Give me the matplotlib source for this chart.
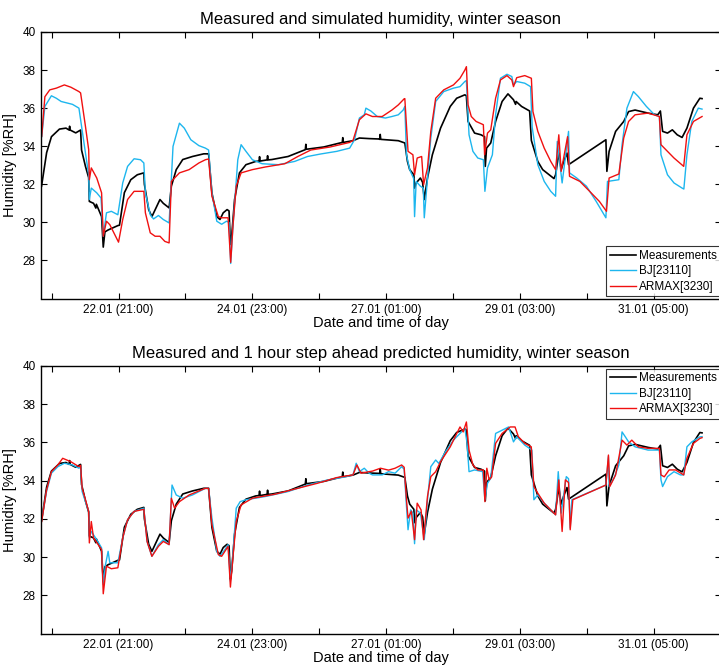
import matplotlib
matplotlib.use("Agg")
import matplotlib.pyplot as plt

plt.rcParams['font.family'] = ['Liberation Sans', 'DejaVu Sans']

# x values: hours since 21.01 00:00
tick_hours = [20, 45, 70, 95, 120, 145, 170, 195, 220, 245, 270]
tick_labels = ['', '22.01 (21:00)', '', '24.01 (23:00)', '', '27.01 (01:00)', '',
               '29.01 (03:00)', '', '31.01 (05:00)', '']
y_ticks = [28, 30, 32, 34, 36, 38, 40]

meas_t = [16.2, 18.1, 19.9, 22.9, 25.35, 26.5, 26.7, 26.9, 28.98, 30.18, 30.8, 31.16, 32.62, 33.82,
          34.07, 35.64, 36.5, 36.7, 38.07, 38.65, 39.27, 39.89, 41.09, 44.73, 45.34, 47.16,
          49.56, 52.0, 54.44, 54.65, 56.25, 57.45, 59.27, 60.47, 61.71, 63.89, 64.73, 66.55,
          68.98, 72.62, 76.84, 78.65, 79.89, 81.71, 82.9, 84.11, 85.56, 86.29, 86.8, 87.27,
          88.36, 90.18, 92.62, 96.25, 97.5, 97.7, 97.9, 100.5, 100.7, 100.9, 102.29, 108.36,
          114.44, 114.8, 115.0, 115.2, 121.71, 127.75, 128.6, 128.8, 129.0, 132.62, 135.02,
          138.65, 142.29, 142.6, 142.8, 143.0, 149.56, 152.0, 152.98, 153.82, 155.38, 155.64,
          156.25, 157.82, 158.65, 159.27, 160.47, 162.29, 165.35, 168.98, 171.38, 174.44,
          175.0, 175.64, 178.07, 180.47, 181.8, 182.07, 182.55, 184.11, 185.93, 188.36,
          190.55, 192.62, 193.4, 193.6, 195.64, 198.65, 199.3, 201.71, 203.53, 205.93, 207.75, 208.36,
          209.56, 210.44, 211.38, 212.62, 213.2, 227.16, 227.53, 228.36, 230.8, 233.82,
          235.64, 238.07, 242.91, 246.55, 247.53, 248.36, 250.18, 252.0, 253.82, 255.64,
          257.45, 259.89, 262.29, 263.1]
meas_v = [31.9, 33.66, 34.5, 34.9, 34.95, 34.85, 35.05, 34.85, 34.7, 34.8, 34.85, 33.8, 32.94, 32.35,
          31.1, 31.0, 30.75, 30.95, 30.5, 30.3, 28.7, 29.5, 29.6, 29.83, 29.85, 31.56,
          32.24, 32.5, 32.6, 32.0, 30.67, 30.3, 30.84, 31.2, 31.0, 30.76, 31.9, 32.77,
          33.3, 33.46, 33.6, 33.6, 31.55, 30.3, 30.15, 30.5, 30.67, 30.6, 28.84, 29.27,
          31.2, 32.6, 33.03, 33.2, 33.22, 33.45, 33.22, 33.28, 33.5, 33.28, 33.3, 33.46,
          33.8, 33.82, 34.1, 33.84, 33.96, 34.17, 34.19, 34.45, 34.2, 34.29, 34.43,
          34.4, 34.38, 34.36, 34.62, 34.36, 34.29, 34.17, 33.2, 32.77, 32.5, 31.8,
          32.07, 32.33, 32.1, 31.2, 32.33, 33.55, 34.95, 36.09, 36.52, 36.7,
          36.65, 35.3, 34.69, 34.6, 34.5, 32.94, 33.9, 34.17, 35.3, 36.35,
          36.75, 36.44, 36.2, 36.35, 36.09, 35.85, 34.3, 33.2, 32.77, 32.5, 32.3, 32.5,
          33.64, 32.77, 33.2, 33.64, 33.03, 34.34, 32.68, 33.73, 34.78, 35.3,
          35.82, 35.9, 35.74, 35.65, 35.85, 34.78, 34.69, 34.86, 34.6, 34.46,
          34.95, 36.0, 36.52, 36.5]

# Simulated (top panel)
sim_bj_t = [16.25, 17.45, 19.89, 21.71, 23.53, 27.75, 30.18, 31.16, 32.62, 33.82, 34.07, 34.8,
            36.84, 38.44, 39.27, 40.47, 42.29, 44.73, 46.55, 48.36, 50.8, 53.2, 54.44, 55.02,
            56.84, 58.07, 59.89, 61.71, 63.89, 65.35, 67.75, 69.56, 72.0, 75.02, 77.45, 78.65,
            79.89, 81.71, 83.53, 85.35, 86.29, 86.91, 87.75, 89.56, 90.8, 92.62, 95.02, 98.65,
            104.73, 110.8, 115.64, 120.47, 126.55, 131.38, 133.2, 135.02, 136.84, 137.45, 139.3,
            141.71, 144.73, 147.16, 149.56, 151.38, 152.0, 152.62, 153.82, 155.3, 155.64,
            156.25, 157.82, 158.9, 159.27, 160.47, 161.71, 163.53, 166.55, 170.18, 172.62,
            174.44, 175.0, 176.0, 177.45, 179.27, 181.35, 181.93, 182.9, 184.73, 185.93,
            187.75, 190.18, 192.0, 192.62, 193.82, 196.84, 199.0, 199.6, 201.71, 204.11,
            206.55, 208.36, 208.98, 210.8, 212.0, 213.2, 213.56, 216.25, 219.89, 223.53,
            227.16, 227.75, 232.0, 233.2, 235.02, 237.45, 239.27, 242.29, 245.35, 247.16,
            247.75, 250.18, 252.62, 255.64, 256.3, 257.45, 259.27, 261.71, 263.1]
sim_bj_v = [34.5, 36.09, 36.65, 36.52, 36.35, 36.2, 36.0, 35.04, 33.64, 32.5, 31.2, 31.8,
            31.55, 31.28, 29.27, 30.5, 30.58, 30.4, 32.07, 32.94, 33.34, 33.29, 33.12, 31.55,
            30.4, 30.18, 30.36, 30.15, 29.97, 33.99, 35.21, 34.95, 34.34, 34.03, 33.9, 33.8,
            31.55, 30.06, 29.9, 30.06, 30.0, 27.84, 29.8, 33.29, 34.08, 33.73, 33.29, 33.08,
            33.03, 33.2, 33.46, 33.59, 33.73, 33.9, 34.34, 35.48, 35.65, 36.0, 35.85,
            35.56, 35.48, 35.56, 35.65, 35.9, 36.09, 33.55, 32.77, 32.3, 30.3,
            32.15, 31.9, 31.8, 30.24, 32.33, 34.43, 36.35, 36.87, 37.05, 37.13,
            37.4, 37.45, 34.6, 33.73, 33.38, 33.29, 31.63, 32.86, 33.55, 35.65,
            37.57, 37.78, 37.66, 37.22, 37.4, 37.31, 37.13, 35.0, 33.03, 32.15,
            31.63, 31.37, 34.25, 32.07, 33.4, 34.78, 32.6, 32.33, 31.9, 31.1,
            30.24, 32.15, 32.24, 34.08, 36.0, 36.87, 36.61, 36.09, 35.65, 35.56,
            33.55, 32.5, 32.07, 31.8, 31.75, 33.55, 35.3, 36.0, 35.95]

sim_ax_t = [16.0, 16.25, 17.45, 19.27, 21.71, 24.73, 27.16, 30.18, 30.8, 32.62, 33.82, 34.07,
            34.8, 36.84, 38.65, 39.27, 40.47, 41.71, 44.98, 46.55, 48.36, 50.8, 54.44, 55.02,
            56.84, 58.65, 60.47, 62.29, 63.89, 64.73, 67.75, 71.38, 75.02, 77.45, 78.65, 79.89,
            82.29, 83.53, 85.93, 86.91, 87.75, 88.98, 90.8, 95.02, 99.89, 107.16, 112.0, 116.84,
            124.11, 131.38, 132.62, 135.02, 137.45, 139.89, 143.53, 147.16, 149.56, 151.75,
            152.0, 153.2, 155.02, 155.64, 156.62, 158.29, 159.02, 160.47, 161.71, 163.53,
            166.55, 170.18, 172.62, 174.44, 175.02, 175.64, 176.84, 178.65, 181.35, 181.82,
            182.9, 184.11, 185.93, 187.75, 190.18, 192.0, 192.62, 193.82, 196.84, 199.3,
            199.89, 201.71, 204.11, 206.55, 208.36, 209.56, 210.44, 212.84, 213.56, 217.45,
            221.09, 224.73, 227.38, 228.36, 232.0, 233.82, 235.64, 238.07, 242.91, 247.16,
            247.75, 250.18, 252.62, 256.25, 257.45, 259.89, 263.1]
sim_ax_v = [35.8, 34.5, 36.6, 36.96, 37.05, 37.22, 37.1, 36.87, 36.8, 35.04, 33.82, 32.24,
            32.86, 32.33, 31.55, 29.27, 30.06, 29.88, 28.96, 30.15, 31.2, 31.63, 31.63, 30.5,
            29.45, 29.27, 29.27, 29.0, 28.92, 32.15, 32.6, 32.77, 33.12, 33.29, 33.33, 31.37,
            30.3, 30.24, 30.24, 27.9, 29.8, 31.9, 32.6, 32.77, 32.91, 33.08, 33.46, 33.8,
            33.96, 34.2, 34.3, 35.39, 35.7, 35.56, 35.56, 35.9, 36.17, 36.49,
            36.5, 33.73, 33.55, 32.5, 33.38, 33.46, 31.98, 32.86, 34.78, 36.52,
            36.96, 37.22, 37.57, 38.0, 38.18, 36.17, 35.56, 35.3, 35.13, 33.55,
            34.69, 34.86, 36.52, 37.48, 37.71, 37.48, 37.13, 37.6, 37.71, 37.57,
            35.82, 34.78, 33.9, 33.2, 32.77, 34.6, 32.68, 34.5, 32.42, 32.15,
            31.63, 31.1, 30.58, 32.33, 32.54, 34.43, 35.3, 35.65, 35.74, 35.56,
            34.08, 33.73, 33.38, 32.94, 34.6, 35.3, 35.56]

# 1 hour step ahead predicted (bottom panel)
pred_bj_t = [16.25, 18.07, 19.89, 22.29, 24.73, 27.75, 30.18, 30.8, 31.38, 32.62, 33.82, 34.07,
             34.8, 36.84, 38.65, 39.27, 40.11, 41.09, 41.71, 44.73, 46.55, 48.36, 50.8, 54.44,
             55.64, 57.45, 59.89, 61.71, 63.89, 64.98, 66.55, 68.98, 72.62, 77.45, 78.65, 79.89,
             81.71, 82.9, 84.73, 85.93, 86.8, 87.75, 88.98, 90.44, 92.62, 99.89, 108.36, 115.64,
             122.91, 130.18, 132.62, 133.82, 135.02, 136.84, 138.65, 139.89, 143.53, 145.93,
             148.36, 150.8, 151.75, 152.62, 153.2, 154.18, 155.02, 155.64, 156.25, 157.82,
             159.27, 160.47, 161.71, 163.53, 164.73, 167.16, 170.18, 172.62, 174.44, 175.27,
             176.0, 178.07, 181.09, 181.93, 182.9, 184.11, 185.93, 188.36, 190.8, 192.62,
             193.82, 196.84, 199.5, 200.25, 201.71, 204.11, 206.55, 208.36, 209.35, 210.44,
             212.36, 213.2, 213.82, 214.44, 227.16, 228.11, 228.36, 230.18, 232.0, 233.2,
             234.44, 235.64, 238.07, 242.91, 247.16, 247.75, 248.36, 250.18, 252.62, 255.02,
             256.25, 257.45, 259.27, 262.29, 263.1]
pred_bj_v = [31.95, 33.43, 34.39, 34.73, 34.91, 34.82, 34.65, 34.75, 33.43, 32.9, 32.39, 31.0,
             31.34, 30.91, 30.48, 28.57, 29.6, 30.3, 29.7, 29.7, 31.0, 31.95, 32.39, 32.56,
             30.82, 30.04, 30.65, 30.91, 30.65, 33.77, 33.25, 33.08, 33.25, 33.6, 33.6, 32.04,
             30.3, 30.04, 30.39, 30.65, 28.74, 30.2, 32.56, 32.9, 33.0, 33.17, 33.43, 33.77,
             34.03, 34.21, 34.3, 34.91, 34.47, 34.65, 34.39, 34.3, 34.3, 34.47,
             34.39, 34.73, 34.6, 32.65, 31.43, 32.47, 32.3, 30.7, 32.47, 32.3,
             30.91, 33.0, 34.73, 35.08, 34.9, 35.51, 36.12, 36.47, 36.73, 35.95,
             34.47, 34.56, 34.47, 33.0, 33.86, 34.13, 36.47, 36.64, 36.81, 36.03,
             36.3, 35.86, 35.6, 33.0, 33.26, 32.82, 32.47, 32.21, 34.47, 32.3,
             34.21, 34.1, 31.52, 33.0, 33.77, 35.26, 33.69, 34.13, 34.82, 36.55,
             36.29, 36.03, 35.77, 35.6, 35.6, 34.04, 33.69, 34.21, 34.47, 34.3,
             34.3, 35.77, 36.03, 36.29, 36.3]

pred_ax_t = [16.25, 18.07, 19.89, 22.29, 24.11, 27.16, 30.18, 30.8, 31.38, 32.62, 33.82, 34.07,
             34.8, 35.64, 38.65, 39.27, 40.47, 42.29, 44.73, 46.55, 48.36, 50.8, 54.44, 55.64,
             57.45, 59.89, 61.71, 63.89, 64.73, 65.93, 67.75, 71.38, 75.02, 77.45, 78.65, 79.89,
             82.29, 83.53, 85.93, 86.8, 87.75, 88.98, 90.8, 95.02, 103.53, 112.0, 119.27, 126.55,
             132.62, 134.07, 135.64, 138.65, 139.89, 142.91, 145.93, 148.36, 150.8, 151.75,
             152.62, 153.2, 154.44, 155.64, 156.62, 158.07, 159.02, 160.47, 161.71, 163.53,
             165.35, 168.98, 172.62, 173.82, 175.02, 176.0, 177.45, 179.27, 181.35, 181.93,
             182.65, 183.53, 184.47, 185.93, 188.36, 191.38, 193.2, 194.44, 196.84, 199.27,
             200.25, 201.71, 204.11, 206.55, 208.36, 209.56, 210.8, 212.0, 213.2, 213.82,
             214.8, 227.16, 228.11, 228.62, 230.8, 233.2, 235.02, 236.84, 239.27, 242.91,
             247.16, 247.75, 248.98, 250.8, 253.2, 256.25, 257.45, 259.89, 262.29, 263.1]
pred_ax_v = [31.86, 33.5, 34.47, 34.82, 35.17, 34.99, 34.73, 34.8, 33.6, 33.0, 32.39, 30.74,
             31.86, 31.0, 30.39, 28.08, 29.52, 29.39, 29.44, 31.0, 31.95, 32.39, 32.5, 30.82,
             30.04, 30.56, 30.82, 30.65, 33.08, 32.56, 32.9, 33.25, 33.46, 33.6, 33.6, 31.69,
             30.13, 30.04, 30.56, 28.43, 30.0, 31.86, 32.73, 33.08, 33.29, 33.6, 33.86, 34.16,
             34.3, 34.82, 34.39, 34.47, 34.5, 34.65, 34.55, 34.65, 34.82, 34.7,
             33.0, 32.04, 32.4, 30.91, 32.82, 32.47, 30.91, 33.17, 34.21, 34.47,
             34.99, 35.77, 36.81, 36.55, 37.07, 35.6, 34.82, 34.56, 34.56, 32.9,
             34.65, 34.04, 34.2, 35.95, 36.47, 36.81, 36.81, 36.3, 35.95, 35.77,
             33.69, 33.34, 32.82, 32.47, 32.21, 34.04, 31.34, 34.04, 33.9, 31.43,
             33.0, 33.77, 35.34, 33.69, 34.3, 36.12, 35.86, 36.12, 35.77, 35.69,
             35.69, 34.3, 34.2, 34.56, 34.56, 34.3, 35.17, 35.95, 36.21, 36.25]

series_names = ['Measurements', 'BJ[23110]', 'ARMAX[3230]']
titles = ['Measured and simulated humidity, winter season',
          'Measured and 1 hour step ahead predicted humidity, winter season']

C_MEAS = 'black'
C_BJ = '#1DB6EE'
C_AX = '#F01010'

W, H = 719, 667
fig = plt.figure(figsize=(W / 100, H / 100), dpi=100)

def px_rect(left, top, right, bottom):
    return [left / W, 1 - bottom / H, (right - left) / W, (bottom - top) / H]

ax1 = fig.add_axes(px_rect(41, 32, 720.5, 298.5))
ax2 = fig.add_axes(px_rect(41, 366, 720.5, 633.5))

panels = [
    (ax1, sim_bj_t, sim_bj_v, sim_ax_t, sim_ax_v, 'lower right', (1.0, 0.008)),
    (ax2, pred_bj_t, pred_bj_v, pred_ax_t, pred_ax_v, 'upper right', (1.0, 0.99)),
]

for i, (ax, bt, bv, at, av, loc, anchor) in enumerate(panels):
    ax.plot(meas_t, meas_v, color=C_MEAS, lw=1.2, label=series_names[0])
    ax.plot(bt, bv, color=C_BJ, lw=1.0, label=series_names[1])
    ax.plot(at, av, color=C_AX, lw=1.0, label=series_names[2])
    ax.set_xlim(16.0, 263.1)
    ax.set_ylim(26, 40)
    ax.set_xticks(tick_hours)
    ax.set_xticklabels(tick_labels)
    ax.set_yticks(y_ticks)
    ax.tick_params(direction='in', length=4, width=0.8, top=True, right=True,
                   labelsize=8.5, pad=4, colors='black')
    for s in ax.spines.values():
        s.set_linewidth(1.0)
    ax.set_title(titles[i], fontsize=12, pad=6)
    ax.set_xlabel('Date and time of day', fontsize=10.5, labelpad=0)
    ax.set_ylabel('Humidity [%RH]', fontsize=10.5, labelpad=4)
    leg = ax.legend(loc=loc, bbox_to_anchor=anchor, fontsize=8.5, frameon=True,
                    fancybox=False, borderaxespad=0.0, handlelength=2.2,
                    handletextpad=0.3, labelspacing=0.3, borderpad=0.3)
    leg.get_frame().set_edgecolor('black')
    leg.get_frame().set_linewidth(0.8)

fig.savefig('out.png', dpi=100)
